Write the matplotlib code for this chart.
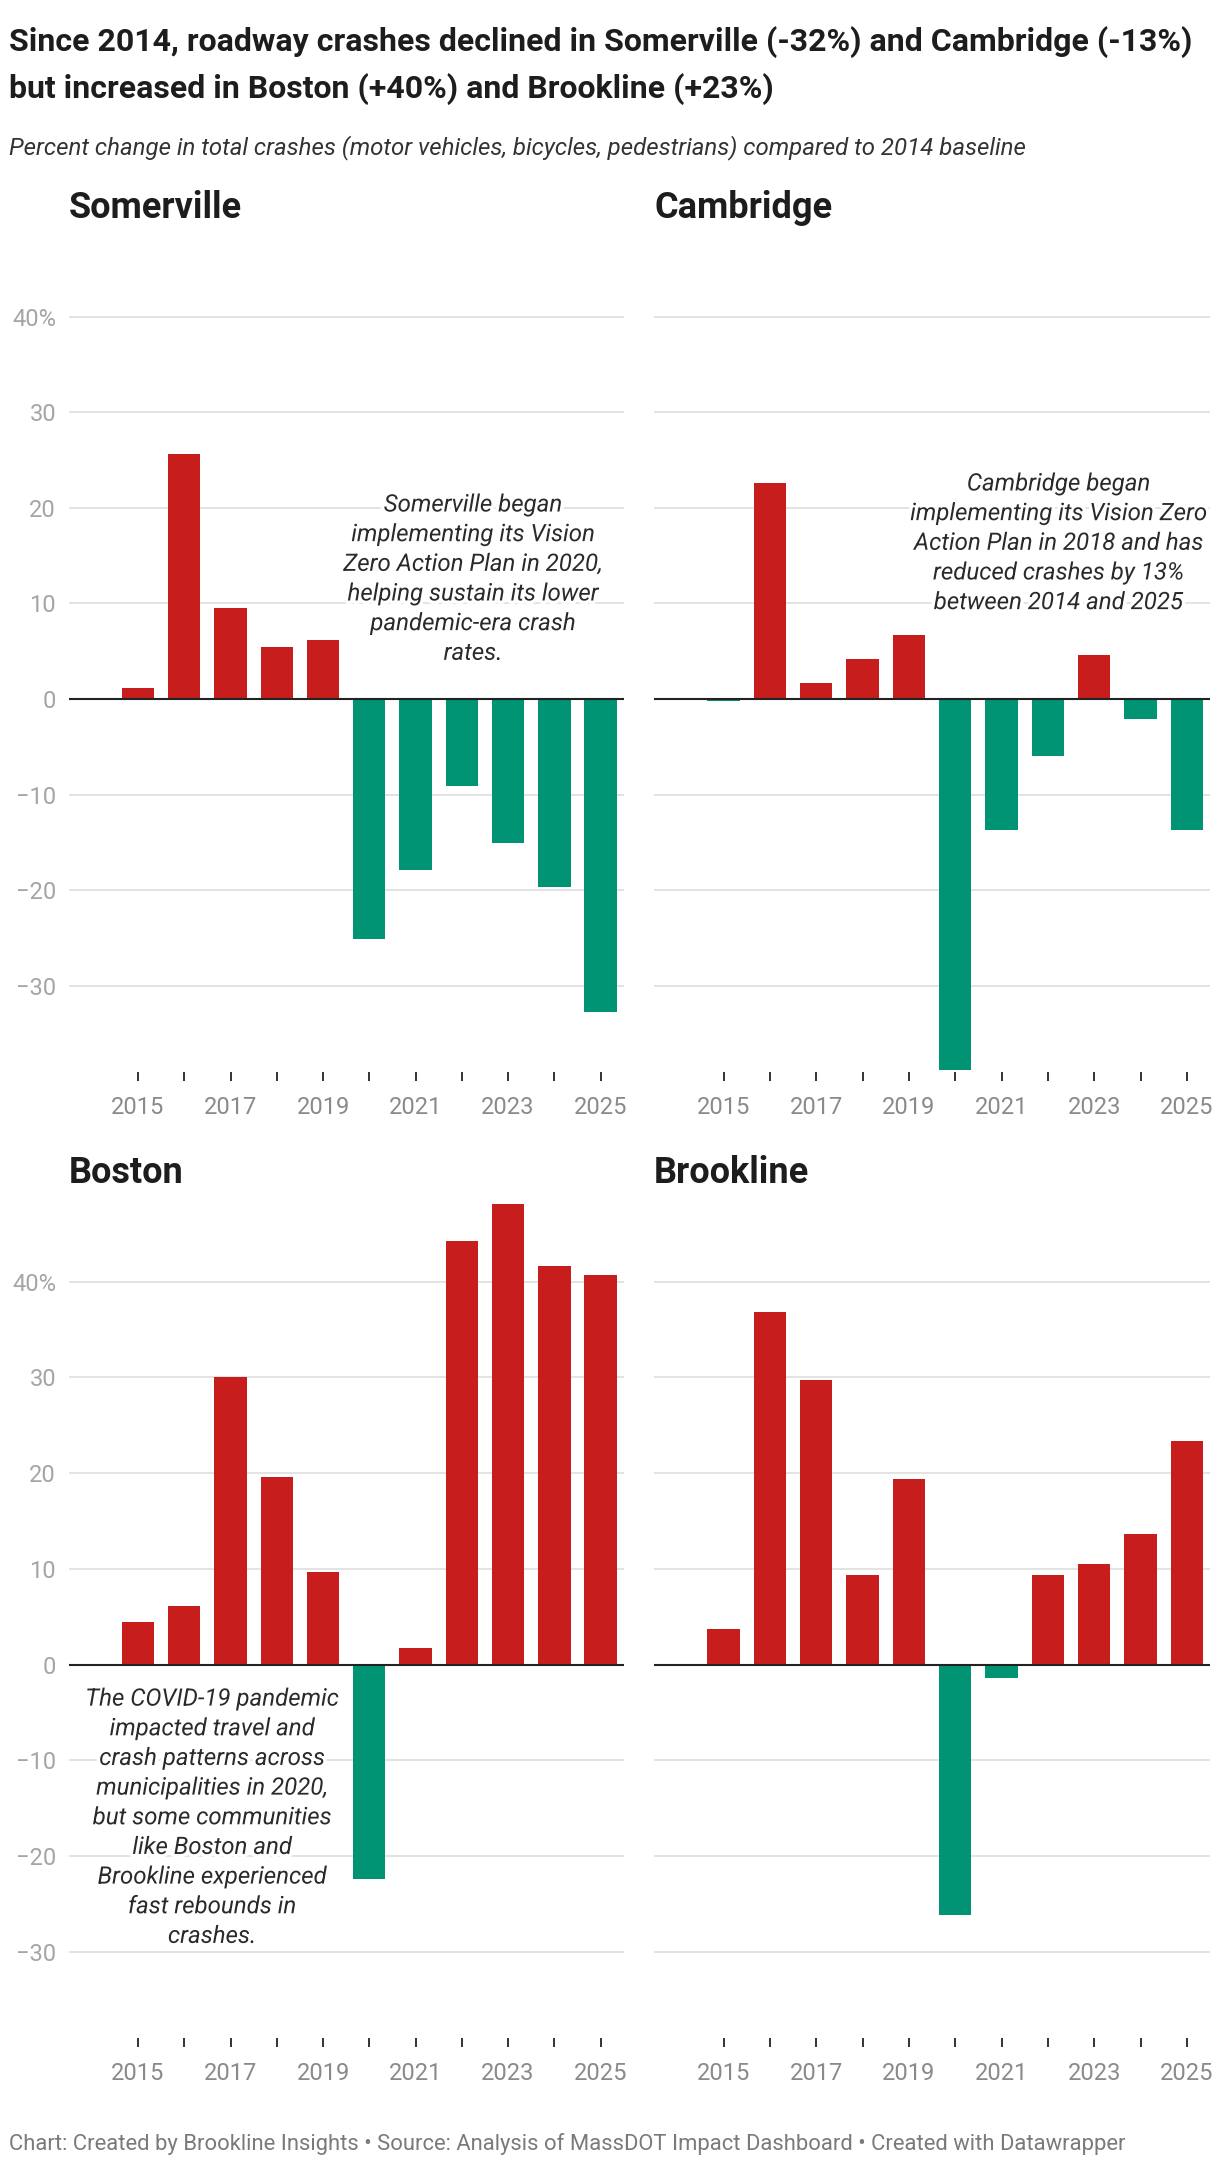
import matplotlib.pyplot as plt
import matplotlib.patheffects as pe

plt.rcParams["font.family"] = ["Roboto", "DejaVu Sans"]

# Data (percent change vs. 2014 baseline)
YEARS = list(range(2015, 2026))
SOMERVILLE = [1.2, 25.6, 9.5, 5.4, 6.2, -25.1, -17.9, -9.1, -15.1, -19.6, -32.7]
CAMBRIDGE = [-0.25, 22.6, 1.7, 4.2, 6.7, -38.8, -13.7, -5.9, 4.6, -2.1, -13.7]
BOSTON = [4.5, 6.1, 30.0, 19.6, 9.7, -22.4, 1.75, 44.3, 48.1, 41.6, 40.75]
BROOKLINE = [3.75, 36.8, 29.7, 9.4, 19.4, -26.2, -1.4, 9.4, 10.5, 13.6, 23.4]

Y_TICKS = [40, 30, 20, 10, 0, -10, -20, -30]
Y_TICK_LABELS = ["40%", "30", "20", "10", "0", "\u221210", "\u221220", "\u221230"]

TITLE = ("Since 2014, roadway crashes declined in Somerville (-32%) and Cambridge (-13%)\n"
         "but increased in Boston (+40%) and Brookline (+23%)")
SUBTITLE = ("Percent change in total crashes (motor vehicles, bicycles, pedestrians) "
            "compared to 2014 baseline")
FOOTER = ("Chart: Created by Brookline Insights \u2022 Source: Analysis of MassDOT Impact "
          "Dashboard \u2022 Created with Datawrapper")

NOTES = {
    "Somerville": (2022.24, 21.5, "Somerville began\nimplementing its Vision\nZero Action Plan in 2020,\n"
                   "helping sustain its lower\npandemic-era crash\nrates."),
    "Cambridge": (2022.23, 23.7, "Cambridge began\nimplementing its Vision Zero\nAction Plan in 2018 and has\n"
                  "reduced crashes by 13%\nbetween 2014 and 2025"),
    "Boston": (2016.6, -2.4, "The COVID-19 pandemic\nimpacted travel and\ncrash patterns across\n"
               "municipalities in 2020,\nbut some communities\nlike Boston and\n"
               "Brookline experienced\nfast rebounds in\ncrashes."),
}

RED = "#c71e1d"
GREEN = "#009374"
W, H = 1220, 2164

fig = plt.figure(figsize=(W / 100, H / 100), dpi=100)

# panel boxes in pixels: left, top, right, bottom
panels = [
    ("Somerville", SOMERVILLE, (68.6, 221, 623.7, 1072), True),
    ("Cambridge", CAMBRIDGE, (654, 221, 1210, 1072), False),
    ("Boston", BOSTON, (68.6, 1186, 623.7, 2038), True),
    ("Brookline", BROOKLINE, (654, 1186, 1210, 2038), False),
]

for name, vals, (l, t, r, b), show_y in panels:
    ax = fig.add_axes([l / W, 1 - b / H, (r - l) / W, (b - t) / H])
    colors = [RED if v >= 0 else GREEN for v in vals]
    ax.bar(YEARS, vals, width=0.7, color=colors, zorder=2)
    ax.axhline(0, color="#222222", lw=1.5, zorder=3)
    ax.set_xlim(2013.5, 2025.5)
    ax.set_ylim(-39, 50)
    ax.set_yticks(Y_TICKS)
    ax.grid(axis="y", color="#e3e3e3", lw=1.4, zorder=0)
    ax.set_axisbelow(True)
    for s in ax.spines.values():
        s.set_visible(False)
    if show_y:
        ax.set_yticklabels(Y_TICK_LABELS, fontsize=17, color="#a5a5a5")
    else:
        ax.set_yticklabels([])
    ax.tick_params(axis="y", length=0, pad=9)
    ax.set_xticks(YEARS)
    ax.set_xticklabels([str(y) if y % 2 else "" for y in YEARS], fontsize=17, color="#8a8a8a")
    ax.tick_params(axis="x", length=6.5, width=1.4, color="#333333", pad=11)

    # panel heading sits ~13px above the plot box
    ax.text(0, 1 + 13 / (b - t), name, transform=ax.transAxes,
            fontsize=26, fontweight="bold", color="#1d1d1d", ha="left", va="center")

    if name in NOTES:
        x, y, txt = NOTES[name]
        ax.text(x, y, txt, ha="center", va="top", fontsize=17.3, fontstyle="italic",
                color="#2a2a2a", linespacing=1.37, zorder=4,
                path_effects=[pe.withStroke(linewidth=5, foreground="white")])

fig.text(9 / W, 1 - 26 / H, TITLE, fontsize=23, fontweight="bold", color="#1d1d1d",
         ha="left", va="top", linespacing=1.6)
fig.text(9 / W, 1 - 148 / H, SUBTITLE, fontsize=17.3, fontstyle="italic", color="#333333",
         ha="left", va="center")
fig.text(9 / W, 1 - 2144 / H, FOOTER, fontsize=15.8, color="#7a7a7a", ha="left", va="center")

fig.savefig("out.png", dpi=100, facecolor="white")
